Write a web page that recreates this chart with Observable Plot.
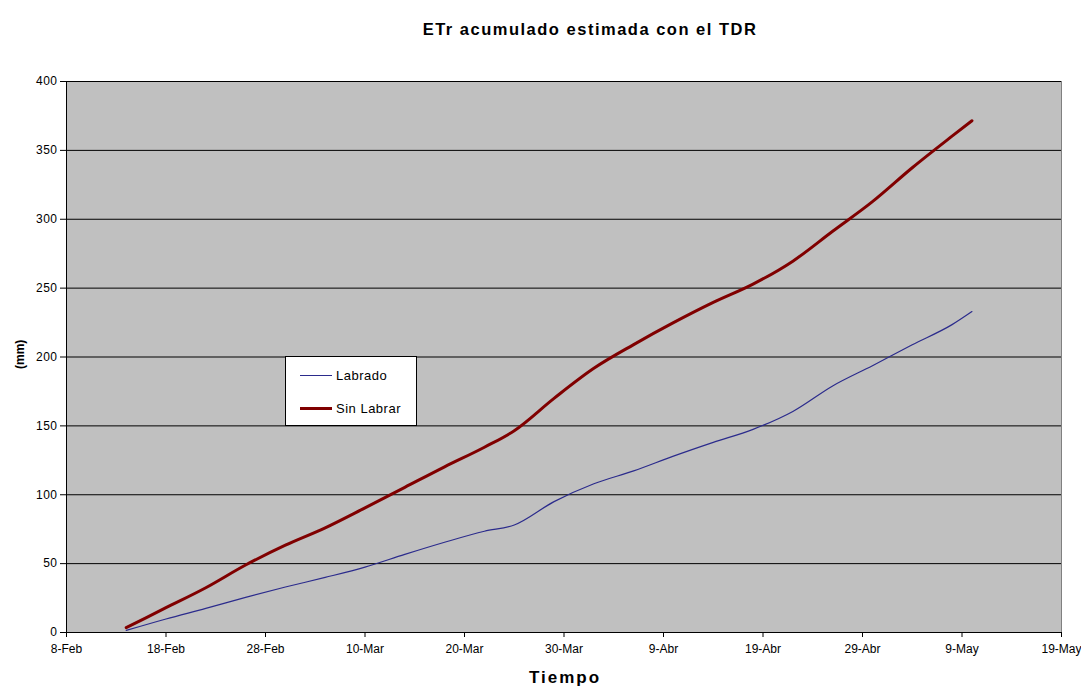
<!DOCTYPE html>
<html>
<head>
<meta charset="utf-8">
<script src="https://cdn.jsdelivr.net/npm/d3@7"></script>
<script src="https://cdn.jsdelivr.net/npm/@observablehq/plot@0.6"></script>
<style>
  body { margin: 0; background: #fff; font-family: "Liberation Sans", Arial, sans-serif; }
  #wrap { position: relative; width: 1081px; height: 692px; }
  #wrap svg .ejey text { letter-spacing: 0.5px; }
  #wrap svg .titulo text { letter-spacing: 1.5px; }
  #wrap svg .eje text { letter-spacing: 2px; }
  #legend {
    position: absolute; left: 285px; top: 356px; width: 130px; height: 68px;
    background: #fff; border: 1px solid #000; font-size: 13px; letter-spacing: 0.5px; color: #000;
  }
  .item { position: absolute; left: 14px; display: flex; align-items: center; }
  .swatch { display: inline-block; width: 32px; margin-right: 4px; }
</style>
</head>
<body>
<div id="wrap"></div>
<script>
// Fechas de medición (2005) y ETr acumulada (mm) para cada tratamiento
const fechas = [
  "2005-02-14", "2005-02-18", "2005-02-22", "2005-02-26", "2005-03-02", "2005-03-06",
  "2005-03-10", "2005-03-14", "2005-03-18", "2005-03-22", "2005-03-25", "2005-03-29",
  "2005-04-02", "2005-04-06", "2005-04-10", "2005-04-14", "2005-04-18", "2005-04-22",
  "2005-04-26", "2005-04-30", "2005-05-04", "2005-05-08", "2005-05-10"
];
const labrado = [
  1.5, 9.8, 17.5, 25.5, 33, 40,
  47.5, 56.7, 65.5, 73.5, 78, 95,
  108, 117.3, 128, 138, 147.5, 160.5,
  179, 193.7, 208.9, 223.5, 233
];
const sinLabrar = [
  3.5, 18, 32.5, 49, 63.4, 76,
  90.5, 105.4, 120.3, 134.5, 146.5, 170,
  191.8, 209, 224.9, 239.6, 252.9, 269.6,
  291.3, 312.8, 337.4, 360.3, 371.5
];
const series = ["Labrado", "Sin Labrar"];
const colores = ["#2b2b8c", "#800000"];
const grosores = [1.2, 3];

const meses = ["Ene", "Feb", "Mar", "Abr", "May", "Jun", "Jul", "Ago", "Sep", "Oct", "Nov", "Dic"];
const yTicks = [0, 50, 100, 150, 200, 250, 300, 350, 400];
const xInicio = new Date("2005-02-08");
const xFin = new Date("2005-05-19");
const xTicks = d3.utcDay.range(xInicio, d3.utcDay.offset(xFin, 1)).filter((d, i) => i % 10 === 0);

const datos = fechas.flatMap((f, i) => [
  {fecha: new Date(f), valor: labrado[i], serie: series[0]},
  {fecha: new Date(f), valor: sinLabrar[i], serie: series[1]}
]);

const chart = Plot.plot({
  width: 1081,
  height: 692,
  marginLeft: 66,
  marginRight: 20,
  marginTop: 81,
  marginBottom: 60,
  style: {fontFamily: "'Liberation Sans', Arial, sans-serif", fontSize: "12px", color: "#000", background: "#fff"},
  x: {type: "utc", domain: [xInicio, xFin]},
  y: {domain: [0, 400]},
  marks: [
    Plot.frame({fill: "#c0c0c0", stroke: "#808080"}),
    Plot.gridY(yTicks.filter(t => t > 0), {stroke: "#000", strokeOpacity: 1, strokeWidth: 1}),
    Plot.ruleX([xInicio], {stroke: "#000"}),
    Plot.ruleY([0], {stroke: "#000"}),
    Plot.axisY(yTicks, {tickSize: 6, tickPadding: 3, label: null, fontSize: 12, className: "ejey"}),
    Plot.axisX(xTicks, {
      tickSize: 5, tickPadding: 7, label: null, fontSize: 12,
      tickFormat: d => `${d.getUTCDate()}-${meses[d.getUTCMonth()]}`
    }),
    Plot.line(datos.filter(d => d.serie === series[0]), {
      x: "fecha", y: "valor", stroke: colores[0], strokeWidth: grosores[0], curve: "monotone-x"
    }),
    Plot.line(datos.filter(d => d.serie === series[1]), {
      x: "fecha", y: "valor", stroke: colores[1], strokeWidth: grosores[1], curve: "monotone-x"
    }),
    Plot.text(["ETr acumulado estimada con el TDR"], {
      frameAnchor: "top", dy: -58, dx: 26, fontSize: 16.5, fontWeight: "bold", className: "titulo"
    }),
    Plot.text(["Tiempo"], {
      frameAnchor: "bottom", dy: 50, dx: 1, fontSize: 17, fontWeight: "bold", className: "eje"
    }),
    Plot.text(["(mm)"], {
      frameAnchor: "left", dx: -46, dy: 12, rotate: -90, fontSize: 12, fontWeight: "bold"
    })
  ]
});

const wrap = document.getElementById("wrap");
wrap.appendChild(chart);

// Leyenda
const legend = document.createElement("div");
legend.id = "legend";
series.forEach((s, i) => {
  const item = document.createElement("div");
  item.className = "item";
  item.style.top = (i === 0 ? 10 : 43) + "px";
  item.style.height = "16px";
  const sw = document.createElement("span");
  sw.className = "swatch";
  sw.style.borderTop = `${i === 0 ? 1 : 3}px solid ${colores[i]}`;
  const label = document.createElement("span");
  label.textContent = s;
  item.appendChild(sw);
  item.appendChild(label);
  legend.appendChild(item);
});
wrap.appendChild(legend);
</script>
</body>
</html>
